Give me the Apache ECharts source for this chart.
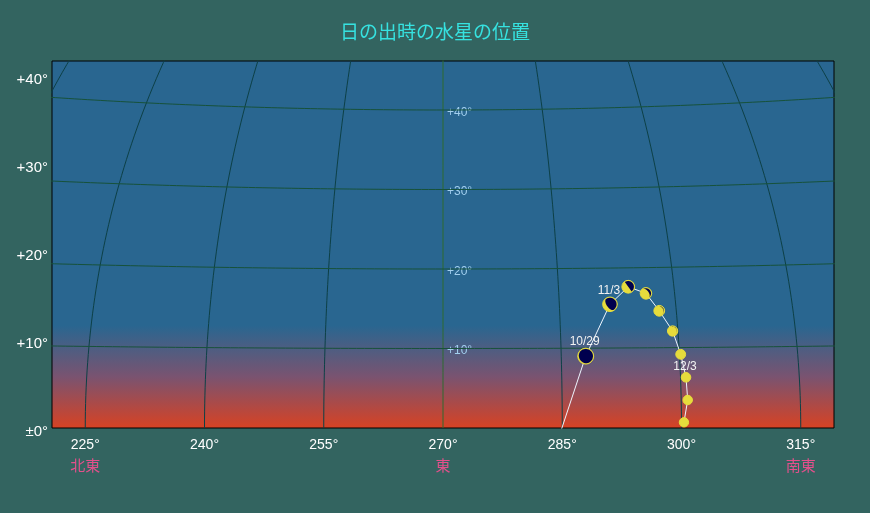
<!DOCTYPE html>
<html><head><meta charset="utf-8">
<script src="https://cdn.jsdelivr.net/npm/echarts@6.0.0/dist/echarts.min.js"></script>
<style>html,body{margin:0;padding:0;background:#336460;}#c{width:870px;height:513px;}</style>
</head><body><div id="c"></div>
<script>
// ---- data ----
const titleText = '日の出時の水星の位置';
const dates       = ['10/24','10/29','11/3','11/8','11/13','11/18','11/23','11/28','12/3','12/8','12/13'];
const azimuth     = [284.05, 288.1, 291.53, 294.07, 296.29, 297.81, 299.32, 300.16, 300.69, 300.82, 300.31];
const altitude    = [-2.76, 9.0, 15.47, 17.64, 16.79, 14.60, 12.07, 9.16, 6.30, 3.48, 0.71];
const diameter    = [10.0, 9.8, 8.8, 7.4, 6.5, 5.9, 5.5, 5.2, 5.0, 4.9, 4.8];   // arcsec (estimated)
const illuminated = [0, 0.04, 0.25, 0.5, 0.78, 0.95, 0.98, 1, 1, 1, 1];
const labeledDates = ['10/29','11/3','12/3'];
const azTicks = [225, 240, 255, 270, 285, 300, 315];
const directionNames = {225: '北東', 270: '東', 315: '南東'};
const altTicks = [0, 10, 20, 30, 40];
const innerAltTicks = [10, 20, 30, 40];
const azGrid = [195, 210, 225, 240, 255, 270, 285, 300, 315, 330, 345];
const altGrid = [10, 20, 30, 40, 50];
const centerAz = 270;

// ---- layout ----
const G = {left: 52, top: 61, width: 782, height: 367};
const pxPerDeg = 7.95;
const halfX = G.width / 2 / pxPerDeg;
const maxY = G.height / pxPerDeg;
const labelPxPerDeg = 8.8;

// Aitoff projection centred on azimuth 270 at the horizon (degrees in, degrees out)
function aitoff(az, alt) {
  const d = Math.PI / 180;
  const u = (az - centerAz) * d, h = alt * d;
  const a = Math.acos(Math.cos(h) * Math.cos(u / 2));
  const s = a < 1e-9 ? 1 : Math.sin(a) / a;
  return [2 * Math.cos(h) * Math.sin(u / 2) / s / d, Math.sin(h) / s / d];
}

const series = [];
azGrid.forEach(az => {
  const pts = [];
  for (let h = 0; h <= 90; h += 1) pts.push(aitoff(az, h));
  series.push({type: 'line', data: pts, symbol: 'none', silent: true, z: 1,
    lineStyle: {color: az === centerAz ? '#2f6b2e' : '#0d4046', width: 1}});
});
altGrid.forEach(alt => {
  const pts = [];
  for (let az = 180; az <= 360; az += 1) pts.push(aitoff(az, alt));
  series.push({type: 'line', data: pts, symbol: 'none', silent: true, z: 1,
    lineStyle: {color: '#17523a', width: 1}});
});
// Mercury path
series.push({type: 'line', data: azimuth.map((a, i) => aitoff(a, altitude[i])), symbol: 'none',
  silent: true, z: 3, lineStyle: {color: '#eef6ff', width: 1}});
// Mercury phase markers
const markerData = [];
azimuth.forEach((a, i) => {
  if (altitude[i] > 0) {
    const p = aitoff(a, altitude[i]);
    markerData.push([p[0], p[1], diameter[i], illuminated[i], i]);
  }
});
series.push({
  type: 'custom', z: 5, silent: true, encode: {x: 0, y: 1}, data: markerData,
  renderItem: function (params, api) {
    const c = api.coord([api.value(0), api.value(1)]);
    const r = 1.5 + 0.66 * api.value(2);
    const k = api.value(3);
    const idx = api.value(4);
    const children = [{type: 'circle', shape: {cx: c[0], cy: c[1], r: r},
      style: {fill: '#e6dc3c', stroke: '#e6dc3c', lineWidth: 1}}];
    if (k < 0.995) {
      const rr = r - 0.7, e = 2 * k - 1, phi = -35 * Math.PI / 180, pts = [];
      for (let t = -90; t <= 90; t += 10) { const q = t * Math.PI / 180; pts.push([rr * Math.cos(q), rr * Math.sin(q)]); }
      for (let t = 90; t >= -90; t -= 10) { const q = t * Math.PI / 180; pts.push([e * rr * Math.cos(q), rr * Math.sin(q)]); }
      const rot = pts.map(p => [c[0] + p[0] * Math.cos(phi) - p[1] * Math.sin(phi), c[1] + p[0] * Math.sin(phi) + p[1] * Math.cos(phi)]);
      children.push({type: 'polygon', shape: {points: rot}, style: {fill: '#00004e'}});
    }
    if (labeledDates.indexOf(dates[idx]) >= 0) {
      children.push({type: 'text', x: c[0] - 1, y: c[1] - r - 6,
        style: {text: dates[idx], fill: '#f2f2f2', font: '12px "Liberation Sans", sans-serif', align: 'center', verticalAlign: 'middle'}});
    }
    return {type: 'group', children: children};
  }
});

const font = '"Liberation Sans", "Noto Sans CJK JP", sans-serif';
const option = {
  backgroundColor: '#336460',
  animation: false,
  title: {text: titleText, left: 'center', top: 17,
    textStyle: {color: '#36e2e0', fontSize: 19, fontWeight: 'normal', fontFamily: '"Noto Sans CJK JP", sans-serif'}},
  grid: {left: G.left, top: G.top, width: G.width, height: G.height, show: true,
    borderColor: '#000', borderWidth: 1,
    backgroundColor: {type: 'linear', x: 0, y: 0, x2: 0, y2: 1, colorStops: [
      {offset: 0, color: '#296690'}, {offset: 0.72, color: '#296690'},
      {offset: 0.86, color: '#7a5370'}, {offset: 1, color: '#d84223'}]}},
  xAxis: [
    {type: 'value', min: -halfX, max: halfX, show: false},
    {type: 'value', min: centerAz - halfX, max: centerAz + halfX, position: 'bottom',
      axisLine: {show: false}, axisTick: {show: false}, splitLine: {show: false},
      axisLabel: {customValues: azTicks, formatter: v => v + '°', color: '#ffffff', fontSize: 14, margin: 10, fontFamily: font}},
    {type: 'value', min: centerAz - halfX, max: centerAz + halfX, position: 'bottom', offset: 22,
      axisLine: {show: false}, axisTick: {show: false}, splitLine: {show: false},
      axisLabel: {customValues: Object.keys(directionNames).map(Number), formatter: v => directionNames[v] || '',
        color: '#e4508c', fontSize: 15, margin: 8, fontFamily: '"Noto Sans CJK JP", sans-serif'}}
  ],
  yAxis: [
    {type: 'value', min: 0, max: maxY, show: false},
    {type: 'value', min: 0, max: G.height / labelPxPerDeg, position: 'left',
      axisLine: {show: false}, axisTick: {show: false}, splitLine: {show: false},
      axisLabel: {customValues: altTicks, formatter: v => (v === 0 ? '±0°' : '+' + v + '°'),
        color: '#ffffff', fontSize: 15, margin: 4, verticalAlign: 'top', lineHeight: 7, fontFamily: font}},
    {type: 'value', min: 0, max: maxY, position: 'left', offset: -G.width / 2,
      axisLine: {show: false}, axisTick: {show: false}, splitLine: {show: false},
      axisLabel: {customValues: innerAltTicks, inside: true, formatter: v => '+' + v + '°',
        color: '#a2cfee', fontSize: 12, margin: 4, verticalAlign: 'top', lineHeight: 5, fontFamily: font}}
  ],
  series: series
};
const chart = echarts.init(document.getElementById('c'), null, {renderer: 'canvas'});
chart.setOption(option);
</script>
</body></html>
